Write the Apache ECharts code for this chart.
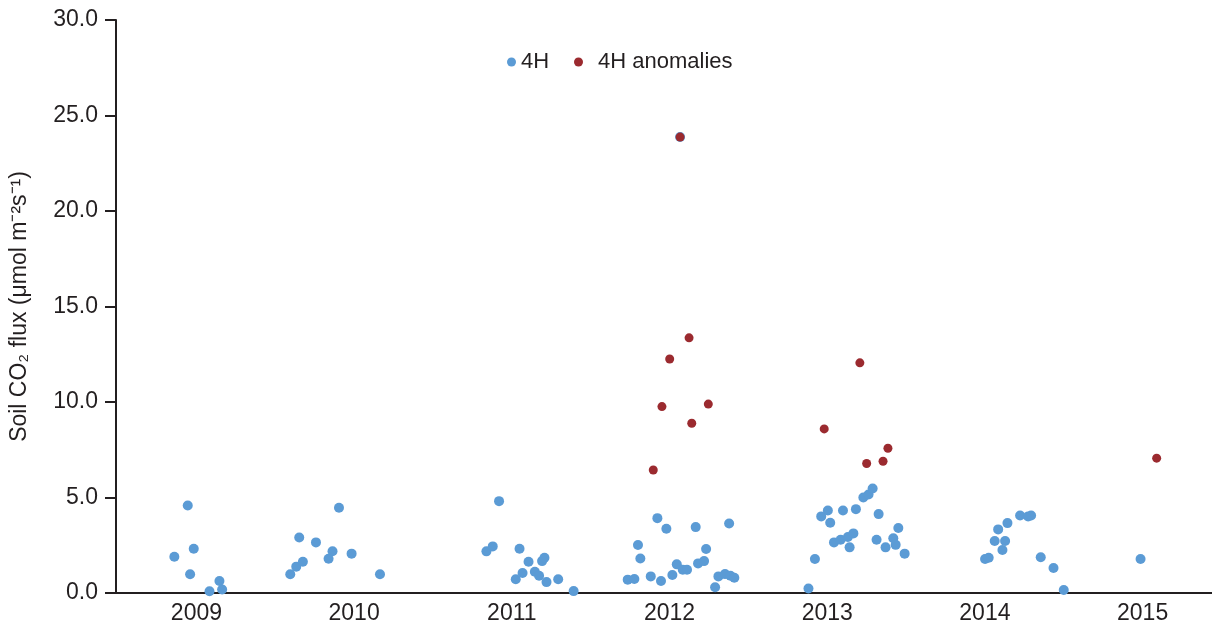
<!DOCTYPE html>
<html>
<head>
<meta charset="utf-8">
<script src="https://cdn.jsdelivr.net/npm/echarts@6/dist/echarts.min.js"></script>
<style>
html,body{margin:0;padding:0;background:#fff;}
#chart{width:1212px;height:625px;}
</style>
</head>
<body>
<div id="chart"></div>
<script>
// Decimal-year positions and flux values
const yearTicks = [2009, 2010, 2011, 2012, 2013, 2014, 2015];
const yTickLabels = ['0.0', '5.0', '10.0', '15.0', '20.0', '25.0', '30.0'];

const fluxX = [
  2008.860, 2008.945, 2008.983, 2008.960, 2009.083, 2009.146, 2009.163,
  2009.595, 2009.633, 2009.675, 2009.652, 2009.758, 2009.863, 2009.838, 2009.904, 2009.984, 2010.164,
  2010.839, 2010.879, 2010.919, 2011.049, 2011.025, 2011.068, 2011.106, 2011.146, 2011.173, 2011.192, 2011.207, 2011.220, 2011.294, 2011.392,
  2011.735, 2011.777, 2011.800, 2011.815, 2011.881, 2011.923, 2011.946, 2011.980, 2012.018, 2012.046, 2012.084, 2012.111, 2012.166, 2012.181, 2012.219, 2012.232, 2012.289, 2012.310, 2012.352, 2012.378, 2012.386, 2012.411, 2012.067,
  2012.881, 2012.922, 2012.962, 2013.004, 2013.019, 2013.043, 2013.085, 2013.100, 2013.131, 2013.142, 2013.166, 2013.182, 2013.229, 2013.262, 2013.288, 2013.326, 2013.313, 2013.370, 2013.419, 2013.434, 2013.451, 2013.491,
  2014.001, 2014.024, 2014.062, 2014.084, 2014.111, 2014.128, 2014.143, 2014.223, 2014.274, 2014.293, 2014.354, 2014.435, 2014.500,
  2014.987
];
const fluxY = [
  1.90, 4.58, 2.32, 0.98, 0.09, 0.63, 0.18,
  0.98, 1.38, 1.64, 2.91, 2.65, 2.19, 1.79, 4.46, 2.06, 0.98,
  2.18, 2.44, 4.81, 2.32, 0.72, 1.05, 1.64, 1.11, 0.90, 1.67, 1.85, 0.57, 0.72, 0.10,
  0.70, 0.73, 2.51, 1.81, 0.87, 3.92, 0.63, 3.36, 0.94, 1.50, 1.22, 1.22, 3.45, 1.55, 1.67, 2.30, 0.30, 0.87, 0.99, 3.64, 0.90, 0.80, 23.87,
  0.24, 1.78, 4.01, 4.32, 3.68, 2.65, 2.79, 4.32, 2.93, 2.39, 3.12, 4.39, 5.00, 5.16, 5.47, 4.13, 2.79, 2.39, 2.87, 2.52, 3.40, 2.06,
  1.78, 1.85, 2.72, 3.33, 2.25, 2.72, 3.66, 4.06, 4.01, 4.06, 1.87, 1.31, 0.16,
  1.78
];

const anomX = [2011.897, 2011.952, 2012.001, 2012.067, 2012.124, 2012.141, 2012.246, 2012.981, 2013.207, 2013.250, 2013.354, 2013.385, 2015.089];
const anomY = [6.44, 9.76, 12.25, 23.87, 13.36, 8.89, 9.89, 8.59, 12.05, 6.78, 6.90, 7.58, 7.06];

const BLUE = '#5b9bd5';
const RED = '#9b2a2f';
const INK = '#231f20';
const FONT = '"Liberation Sans", Arial, Helvetica, sans-serif';

const pairs = (xs, ys) => xs.map((x, i) => [x, ys[i]]);

const chart = echarts.init(document.getElementById('chart'), null, {renderer: 'canvas'});
chart.setOption({
  backgroundColor: '#ffffff',
  animation: false,
  textStyle: {fontFamily: FONT, color: INK},
  grid: {left: 116, right: 0, top: 20, bottom: 32, containLabel: false},
  legend: [
    {
      data: ['4H'], left: 507, top: 51, padding: 0,
      itemWidth: 9, itemHeight: 9, icon: 'circle',
      textStyle: {fontSize: 22, color: INK, fontFamily: FONT}
    },
    {
      data: ['4H anomalies'], left: 574, top: 51, padding: 0,
      itemWidth: 9, itemHeight: 9, icon: 'circle',
      textStyle: {fontSize: 22, color: INK, fontFamily: FONT, padding: [0, 0, 0, 10]}
    }
  ],
  xAxis: {
    type: 'value',
    min: 2008.49,
    max: 2015.44,
    splitLine: {show: false},
    axisTick: {show: false},
    axisLine: {onZero: false, lineStyle: {color: INK, width: 2}},
    axisLabel: {
      customValues: yearTicks,
      formatter: v => String(Math.round(v)),
      fontSize: 23, color: INK, fontFamily: FONT, margin: 9,
      showMinLabel: true, showMaxLabel: true
    }
  },
  yAxis: {
    type: 'value',
    min: 0, max: 30, interval: 5,
    name: 'Soil CO\u2082 flux (\u03bcmol m\u207b\u00b2s\u207b\u00b9)',
    nameLocation: 'middle',
    nameGap: 85,
    nameRotate: 90,
    nameTextStyle: {fontSize: 23, color: INK, fontFamily: FONT},
    splitLine: {show: false},
    axisLine: {show: true, lineStyle: {color: INK, width: 2}},
    axisTick: {show: true, inside: false, length: 11, lineStyle: {color: INK, width: 2}},
    axisLabel: {
      formatter: v => yTickLabels[Math.round(v / 5)],
      fontSize: 23, color: INK, fontFamily: FONT, margin: 18
    }
  },
  series: [
    {
      name: '4H', type: 'scatter', symbol: 'circle', symbolSize: 10,
      itemStyle: {color: BLUE, opacity: 1},
      data: pairs(fluxX, fluxY), z: 2
    },
    {
      name: '4H anomalies', type: 'scatter', symbol: 'circle', symbolSize: 9,
      itemStyle: {color: RED, opacity: 1},
      data: pairs(anomX, anomY), z: 3
    }
  ]
});
</script>
</body>
</html>
